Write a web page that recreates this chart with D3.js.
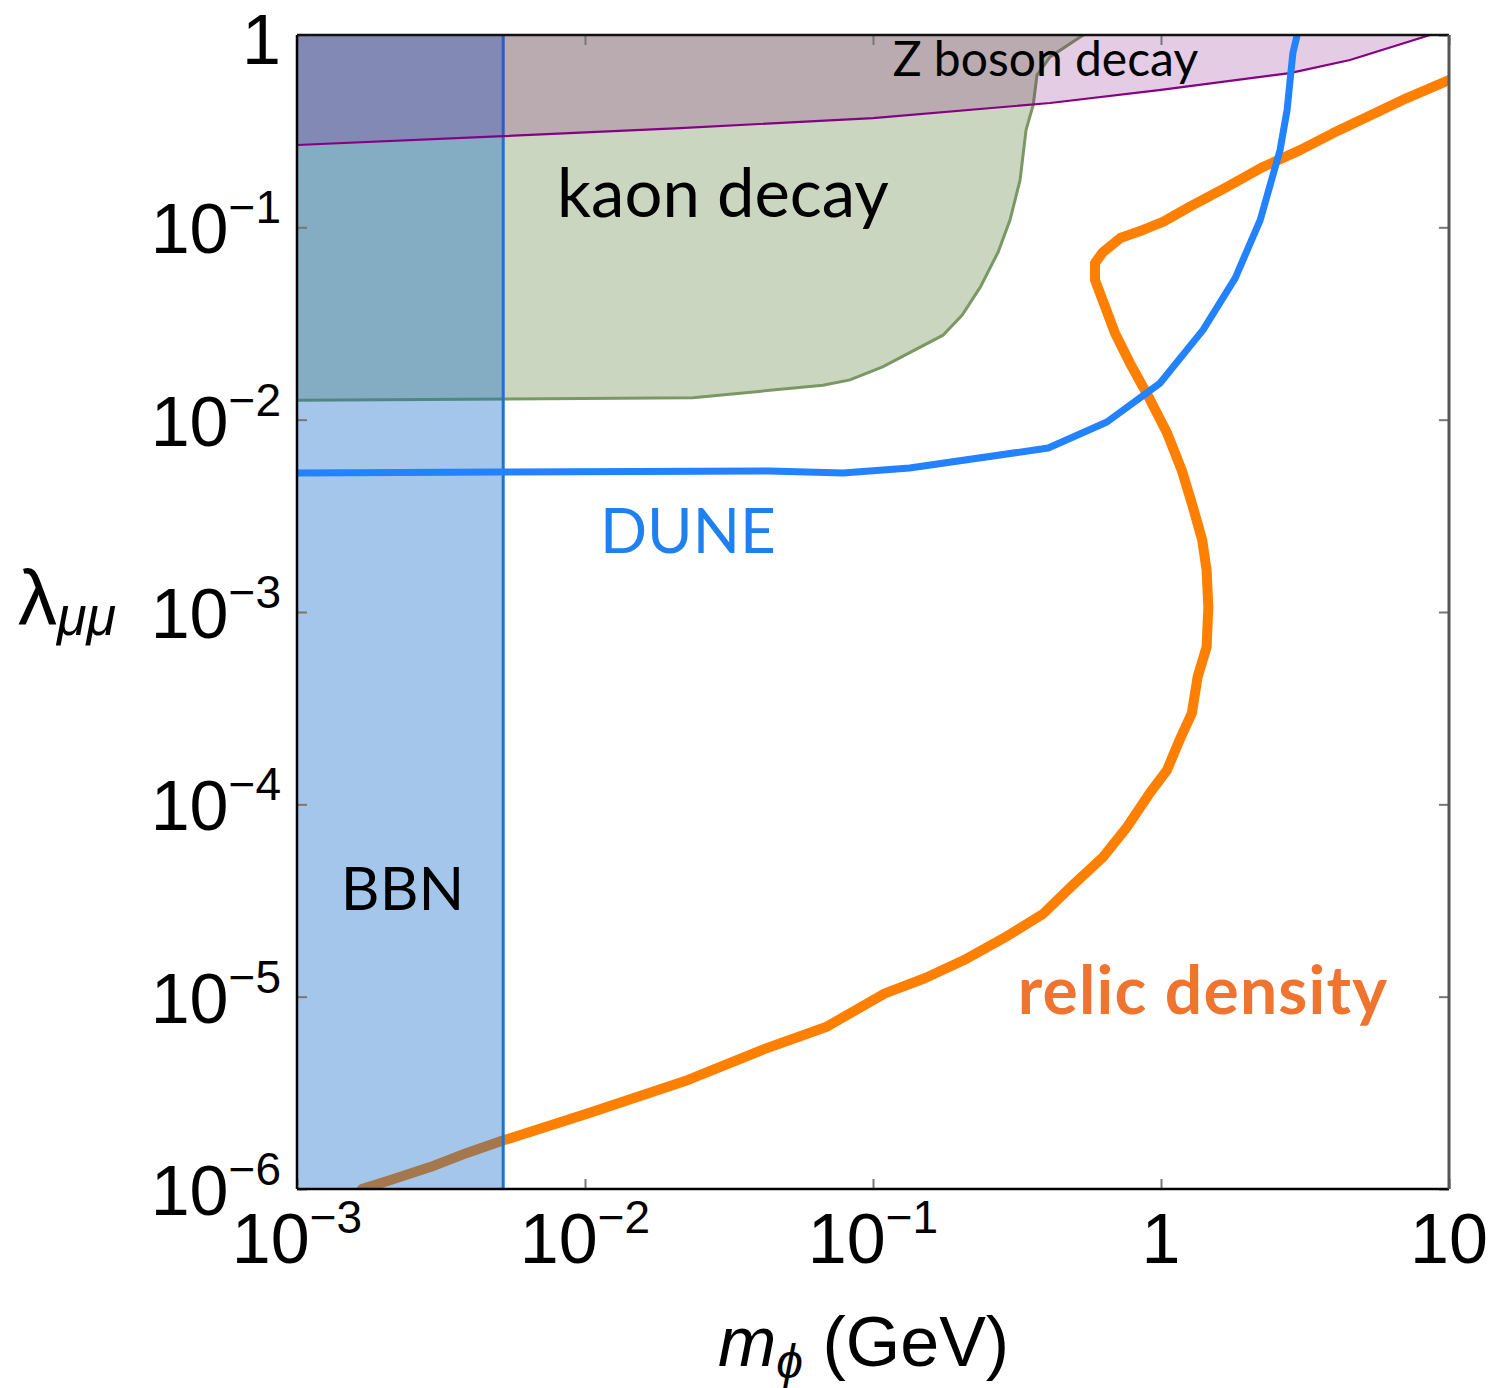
<!DOCTYPE html>
<html>
<head>
<meta charset="utf-8">
<script src="https://cdn.jsdelivr.net/npm/d3@7"></script>
<style>
  html, body { margin: 0; padding: 0; background: #ffffff; }
  svg { display: block; }
</style>
</head>
<body>
<svg id="chart" width="1496" height="1388"></svg>
<script>
// ---------------- DATA ----------------
// relic density curve: [m_phi (GeV), lambda]
const relicM = [0.00168, 0.00210, 0.00290, 0.00389, 0.00515, 0.0103, 0.0228, 0.0429, 0.0687, 0.110, 0.152, 0.207, 0.285, 0.389, 0.494, 0.629, 0.762, 0.916, 1.05, 1.16, 1.28, 1.34, 1.44, 1.46, 1.44, 1.39, 1.29, 1.18, 1.05, 0.916, 0.780, 0.692, 0.640, 0.590, 0.590, 0.629, 0.722, 0.866, 1.02, 1.26, 1.69, 2.26, 3.04, 3.96, 5.19, 7.14, 10.0];
const relicL = [1.0e-6, 1.11e-6, 1.30e-6, 1.54e-6, 1.78e-6, 2.48e-6, 3.69e-6, 5.41e-6, 6.95e-6, 1.04e-5, 1.25e-5, 1.55e-5, 2.02e-5, 2.69e-5, 3.80e-5, 5.32e-5, 7.62e-5, 1.15e-4, 1.51e-4, 2.16e-4, 2.98e-4, 4.59e-4, 6.58e-4, 1.06e-3, 1.65e-3, 2.37e-3, 3.52e-3, 5.47e-3, 8.52e-3, 1.27e-2, 1.97e-2, 2.82e-2, 3.85e-2, 5.32e-2, 6.53e-2, 7.44e-2, 8.80e-2, 9.69e-2, 0.107, 0.128, 0.162, 0.206, 0.252, 0.309, 0.375, 0.470, 0.583];

// DUNE sensitivity curve
const duneM = [0.001, 0.0051, 0.0438, 0.0787, 0.134, 0.406, 0.649, 0.993, 1.40, 1.81, 2.21, 2.59, 2.74, 2.87, 2.97];
const duneL = [5.28e-3, 5.35e-3, 5.41e-3, 5.28e-3, 5.61e-3, 7.12e-3, 9.72e-3, 0.0155, 0.0293, 0.0545, 0.109, 0.252, 0.407, 0.806, 1.0];

// kaon decay exclusion boundary (lower/right edge)
const kaonM = [0.001, 0.0237, 0.0670, 0.0832, 0.108, 0.175, 0.204, 0.236, 0.272, 0.299, 0.324, 0.340, 0.360, 0.371, 0.412, 0.524, 0.54];
const kaonL = [0.0126, 0.0130, 0.0151, 0.0161, 0.0188, 0.0275, 0.0350, 0.0490, 0.0744, 0.109, 0.176, 0.321, 0.433, 0.619, 0.769, 0.976, 1.0];

// Z boson decay exclusion boundary (excluded above)
const zM = [0.001, 0.0052, 0.0214, 0.1, 0.412, 1.0, 2.8, 4.53, 8.6];
const zL = [0.268, 0.298, 0.328, 0.370, 0.443, 0.518, 0.634, 0.741, 1.0];

// BBN exclusion: m_phi below this mass
const bbnMass = 0.0052;

// axes
const xTickValues = [1e-3, 1e-2, 1e-1, 1, 10];
const xTickLabels = ["10^−3", "10^−2", "10^−1", "1", "10"];
const yTickValues = [1, 1e-1, 1e-2, 1e-3, 1e-4, 1e-5, 1e-6];
const yTickLabels = ["1", "10^−1", "10^−2", "10^−3", "10^−4", "10^−5", "10^−6"];

// annotation labels (anchor in data coordinates)
const labelText = ["Z boson decay", "kaon decay", "DUNE", "BBN", "relic density"];
const labelM    = [0.117, 0.0080, 0.01127, 0.00142, 0.318];
const labelL    = [0.612, 0.113, 2.03e-3, 2.82e-5, 8.13e-6];

// ---------------- DRAWING ----------------
const svg = d3.select("#chart");
const plot = { left: 297, right: 1449, top: 35, bottom: 1189 };

const x = d3.scaleLog().domain([1e-3, 10]).range([plot.left, plot.right]);
const y = d3.scaleLog().domain([1e-6, 1]).range([plot.bottom, plot.top]);

svg.append("defs").append("clipPath").attr("id", "clip")
  .append("rect")
  .attr("x", plot.left).attr("y", plot.top)
  .attr("width", plot.right - plot.left).attr("height", plot.bottom - plot.top);

const g = svg.append("g").attr("clip-path", "url(#clip)");
const line = d3.line().x(d => x(d[0])).y(d => y(d[1]));

const zip = (a, b) => a.map((v, i) => [v, b[i]]);
const relic = zip(relicM, relicL);
const dune = zip(duneM, duneL);
const kaon = zip(kaonM, kaonL);
const zb = zip(zM, zL);

// kaon fill (bottom layer)
const kaonPoly = [[1e-3, 1]].concat(kaon).concat([[1e-3, 1]]);
g.append("path").attr("d", line(kaonPoly) + "Z")
  .attr("fill", "rgb(82,118,48)").attr("fill-opacity", 0.3).attr("stroke", "none");
g.append("path").attr("d", line(kaon))
  .attr("fill", "none").attr("stroke", "#7a9863").attr("stroke-width", 3);

// relic density curve
g.append("path").attr("d", line(relic))
  .attr("fill", "none").attr("stroke", "#ff8000").attr("stroke-width", 10)
  .attr("stroke-linejoin", "round").attr("stroke-linecap", "round");

// BBN fill
g.append("rect")
  .attr("x", x(1e-3)).attr("y", y(1))
  .attr("width", x(bbnMass) - x(1e-3)).attr("height", y(1e-6) - y(1))
  .attr("fill", "rgb(15,105,200)").attr("fill-opacity", 0.38);
g.append("line")
  .attr("x1", x(bbnMass)).attr("x2", x(bbnMass))
  .attr("y1", y(1)).attr("y2", y(1e-6))
  .attr("stroke", "#1e72d4").attr("stroke-width", 3);

// Z boson fill + line
const zArea = d3.area().x(d => x(d[0])).y0(y(1)).y1(d => y(d[1]));
g.append("path").attr("d", zArea(zb))
  .attr("fill", "rgb(120,0,120)").attr("fill-opacity", 0.2);
g.append("path").attr("d", line(zb))
  .attr("fill", "none").attr("stroke", "#850085").attr("stroke-width", 2.2);

// DUNE curve
g.append("path").attr("d", line(dune))
  .attr("fill", "none").attr("stroke", "#2282ff").attr("stroke-width", 7)
  .attr("stroke-linejoin", "round");

// ---------------- AXES ----------------
const tickColor = "#777";
const axB = svg.append("g").attr("transform", `translate(0,${plot.bottom})`)
  .call(d3.axisBottom(x).tickValues(xTickValues).tickSize(-10).tickFormat(""));
const axT = svg.append("g").attr("transform", `translate(0,${plot.top})`)
  .call(d3.axisTop(x).tickValues(xTickValues).tickSize(-10).tickFormat(""));
const axL = svg.append("g").attr("transform", `translate(${plot.left},0)`)
  .call(d3.axisLeft(y).tickValues(yTickValues).tickSize(-10).tickFormat(""));
const axR = svg.append("g").attr("transform", `translate(${plot.right},0)`)
  .call(d3.axisRight(y).tickValues(yTickValues).tickSize(-10).tickFormat(""));
[axB, axT, axL, axR].forEach(a => {
  a.select(".domain").remove();
  a.selectAll(".tick line").attr("stroke", tickColor).attr("stroke-width", 2);
});

// frame
svg.append("line").attr("x1", plot.left).attr("x2", plot.right).attr("y1", plot.bottom).attr("y2", plot.bottom)
  .attr("stroke", "#000").attr("stroke-width", 2.5);
svg.append("line").attr("x1", plot.left).attr("x2", plot.left).attr("y1", plot.top).attr("y2", plot.bottom)
  .attr("stroke", "#000").attr("stroke-width", 2.5);
svg.append("line").attr("x1", plot.left).attr("x2", plot.right).attr("y1", plot.top).attr("y2", plot.top)
  .attr("stroke", "#111").attr("stroke-width", 2.5);
svg.append("line").attr("x1", plot.right).attr("x2", plot.right).attr("y1", plot.top).attr("y2", plot.bottom)
  .attr("stroke", "#555").attr("stroke-width", 3);

// tick labels
const tickFont = "'Liberation Sans', Arial, sans-serif";
function powLabel(sel, txt) {
  const parts = txt.split("^");
  sel.append("tspan").text(parts[0]);
  if (parts.length > 1) {
    sel.append("tspan").attr("font-size", 46).attr("dy", -30).text(parts[1]);
  }
}
svg.append("g").selectAll("text").data(xTickValues).join("text")
  .attr("x", d => x(d)).attr("y", 1263)
  .attr("text-anchor", "middle")
  .attr("font-family", tickFont).attr("font-size", 70).attr("fill", "#000")
  .each(function(d, i) { powLabel(d3.select(this), xTickLabels[i]); });

svg.append("g").selectAll("text").data(yTickValues).join("text")
  .attr("x", 281).attr("y", d => Math.max(y(d) + 26, 64))
  .attr("text-anchor", "end")
  .attr("font-family", tickFont).attr("font-size", 70).attr("fill", "#000")
  .each(function(d, i) { powLabel(d3.select(this), yTickLabels[i]); });

// axis titles
const yt = svg.append("text").attr("x", 18).attr("y", 625)
  .attr("font-family", tickFont).attr("font-size", 78).attr("fill", "#000");
yt.append("tspan").text("λ");
yt.append("tspan").attr("font-size", 54).attr("font-style", "italic").attr("dy", 10).text("μμ");

const xt = svg.append("text").attr("x", 718).attr("y", 1366)
  .attr("font-family", tickFont).attr("font-size", 70).attr("fill", "#000");
xt.append("tspan").attr("font-style", "italic").text("m");
xt.append("tspan").attr("font-size", 48).attr("font-style", "italic").attr("dy", 12).text("ϕ");
xt.append("tspan").attr("dy", -12).text(" (GeV)");

// annotations
const labelFont = "Lato, 'Open Sans', sans-serif";
const labelSize = [48, 67, 62, 60, 66];
const labelSpacing = [0, 0, 0, 0, 1.2];
const labelColor = ["#000", "#000", "#1f80f0", "#000", "#ef7430"];
const labelWeight = ["normal", "normal", "normal", "normal", "bold"];
svg.append("g").selectAll("text").data(labelText).join("text")
  .attr("x", (d, i) => x(labelM[i]))
  .attr("y", (d, i) => y(labelL[i]))
  .attr("font-family", labelFont)
  .attr("font-size", (d, i) => labelSize[i])
  .attr("font-weight", (d, i) => labelWeight[i])
  .attr("letter-spacing", (d, i) => labelSpacing[i])
  .attr("fill", (d, i) => labelColor[i])
  .text(d => d);
</script>
</body>
</html>
